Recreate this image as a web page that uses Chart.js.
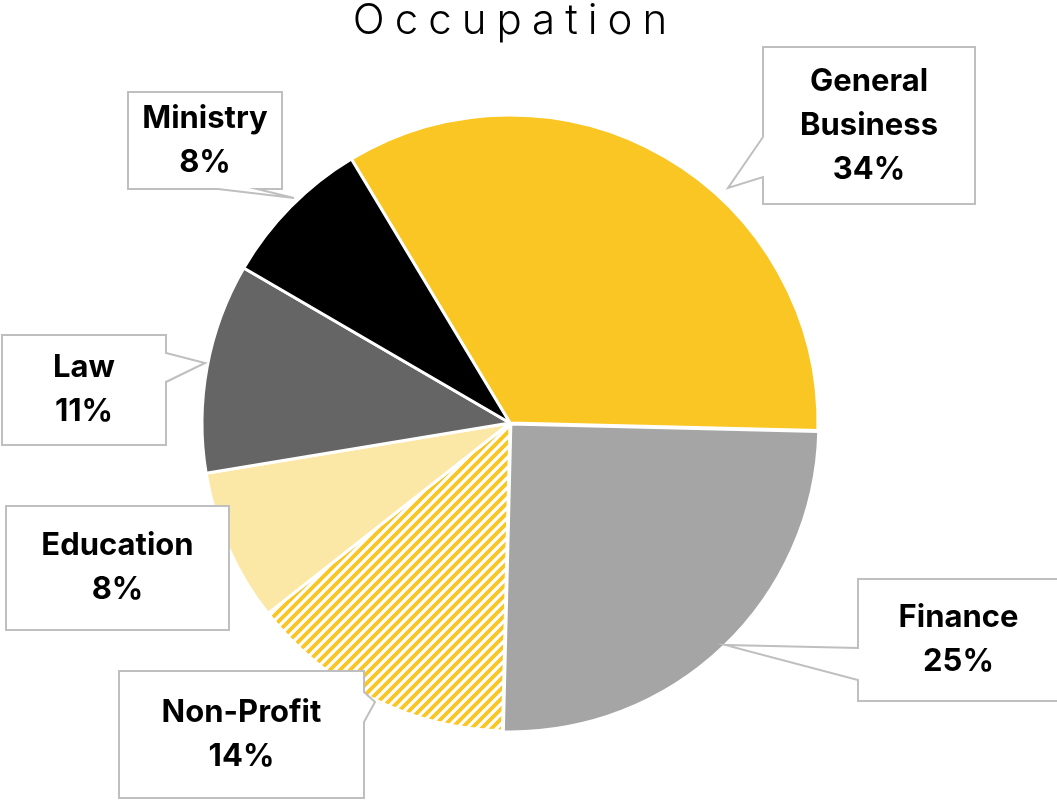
<!DOCTYPE html>
<html>
<head>
<meta charset="utf-8">
<script src="https://cdn.jsdelivr.net/npm/chart.js@4.4.0/dist/chart.umd.min.js"></script>
<style>
  html, body { margin: 0; padding: 0; background: #fff; }
  #wrap { width: 1057px; height: 801px; position: relative; }
</style>
</head>
<body>
<div id="wrap"><canvas id="occChart"></canvas></div>
<script>
const categories = ['General Business', 'Finance', 'Non-Profit', 'Education', 'Law', 'Ministry'];
const shares = [34, 25, 14, 8, 11, 8];
const titleText = 'Occupation';

const GOLD = '#F9C624';

// yellow diagonal stripes on white for the Non-Profit slice
function stripePattern(color) {
  const size = 10;
  const c = document.createElement('canvas');
  c.width = size; c.height = size;
  const g = c.getContext('2d');
  g.fillStyle = '#fff';
  g.fillRect(0, 0, size, size);
  g.strokeStyle = color;
  g.lineWidth = 3.8;
  g.beginPath();
  g.moveTo(-2, 2); g.lineTo(2, -2);
  g.moveTo(0, size); g.lineTo(size, 0);
  g.moveTo(size - 2, size + 2); g.lineTo(size + 2, size - 2);
  g.stroke();
  return g.createPattern(c, 'repeat');
}

const ctx = document.getElementById('occChart').getContext('2d');
const sliceColors = [GOLD, '#A5A5A5', stripePattern(GOLD), '#FCE8A6', '#656565', '#000000'];

// callout boxes: [left, top, right, bottom], pointer side, pointer base span and tip
const callouts = [
  { box: [763, 47, 975, 204], side: 'left', from: 137, to: 177, tip: [728, 188], wrap: true },
  { box: [858, 579, 1062, 701], side: 'left', from: 648, to: 680, tip: [725, 645] },
  { box: [119, 671, 364, 798], side: 'right', from: 692, to: 722, tip: [375, 702] },
  { box: [6, 506, 229, 630], side: null },
  { box: [2, 335, 166, 445], side: 'right', from: 353, to: 382, tip: [205, 363] },
  { box: [128, 92, 282, 189], side: 'bottom', from: 218, to: 257, tip: [294, 198] }
];

function calloutPath(g, c) {
  const [l, t, r, b] = c.box;
  g.beginPath();
  g.moveTo(l, t);
  g.lineTo(r, t);
  if (c.side === 'right') {
    g.lineTo(r, c.from); g.lineTo(c.tip[0], c.tip[1]); g.lineTo(r, c.to);
  }
  g.lineTo(r, b);
  if (c.side === 'bottom') {
    g.lineTo(c.to, b); g.lineTo(c.tip[0], c.tip[1]); g.lineTo(c.from, b);
  }
  g.lineTo(l, b);
  if (c.side === 'left') {
    g.lineTo(l, c.to); g.lineTo(c.tip[0], c.tip[1]); g.lineTo(l, c.from);
  }
  g.closePath();
}

const calloutPlugin = {
  id: 'callouts',
  afterDraw(chart) {
    const g = chart.ctx;
    const data = chart.data.datasets[0].data;
    g.save();
    // title
    g.font = '300 42px Inter';
    g.fillStyle = '#000';
    g.letterSpacing = '10px';
    g.textBaseline = 'alphabetic';
    g.textAlign = 'left';
    const tw = g.measureText(titleText).width - 10;
    g.fillText(titleText, 510 - tw / 2, 34);
    g.letterSpacing = '0px';

    chart.data.labels.forEach((label, i) => {
      const c = callouts[i];
      calloutPath(g, c);
      g.fillStyle = '#fff';
      g.fill();
      g.strokeStyle = '#BFBFBF';
      g.lineWidth = 2;
      g.stroke();

      const lines = (c.wrap ? label.split(' ') : [label]).concat([data[i] + '%']);
      // the Finance box runs off the right edge, so centre its text in the visible part
      const right = Math.min(c.box[2], 1057 + 2);
      const cx = (c.box[0] + right) / 2;
      const cy = (c.box[1] + c.box[3]) / 2;
      const lh = 44;
      g.font = '700 31px Inter';
      g.fillStyle = '#000';
      g.textAlign = 'center';
      g.textBaseline = 'middle';
      lines.forEach((s, k) => {
        g.fillText(s, cx, cy + (k - (lines.length - 1) / 2) * lh);
      });
    });
    g.restore();
  }
};

new Chart(ctx, {
  type: 'pie',
  data: {
    labels: categories,
    datasets: [{
      data: shares,
      backgroundColor: sliceColors,
      borderColor: '#fff',
      borderWidth: 3,
      offset: [0, 5, 0, 0, 0, 0],
      radius: 308
    }]
  },
  options: {
    responsive: true,
    maintainAspectRatio: false,
    animation: false,
    rotation: -31,
    layout: { padding: { left: 0, right: 37, top: 45, bottom: 0 } },
    plugins: {
      legend: { display: false },
      tooltip: { enabled: false },
      title: { display: false }
    }
  },
  plugins: [calloutPlugin]
});
</script>
</body>
</html>
